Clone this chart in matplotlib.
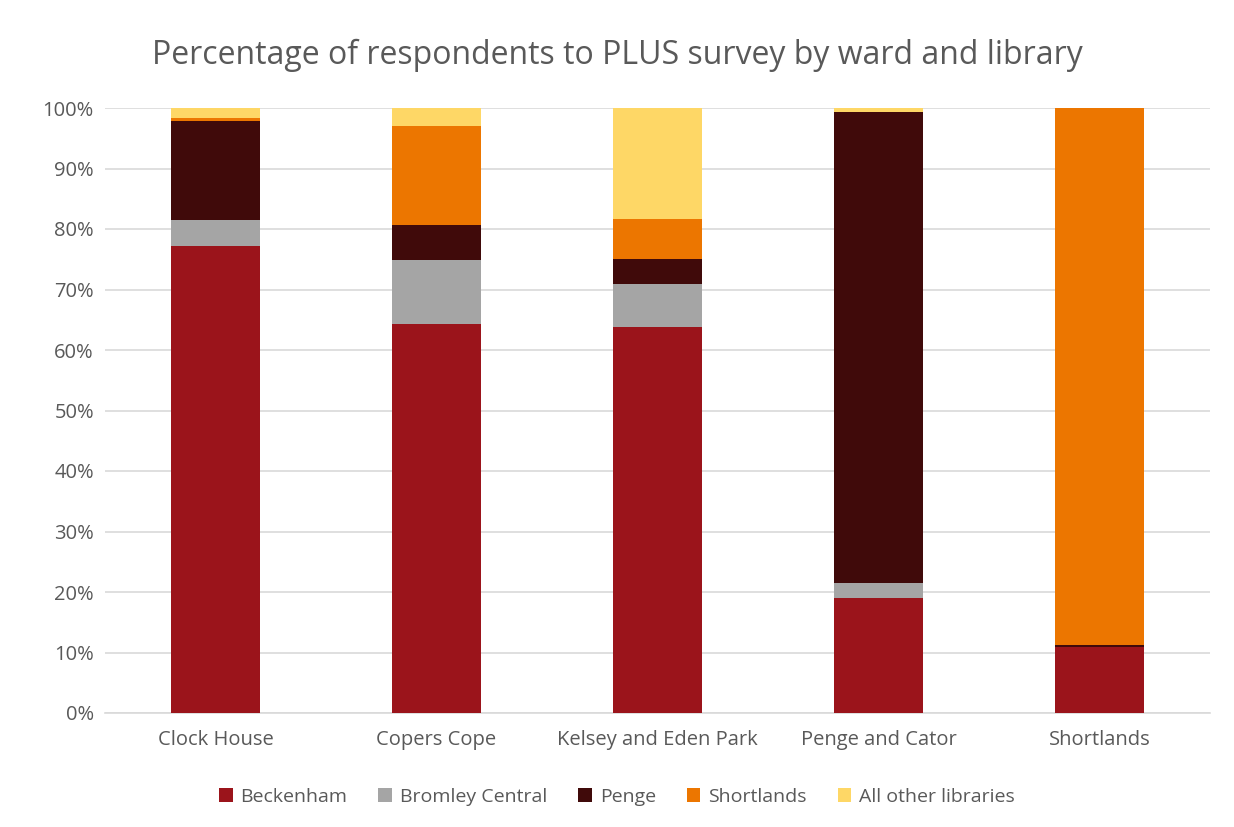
import matplotlib
matplotlib.use('Agg')
import matplotlib.pyplot as plt
import numpy as np
from matplotlib.ticker import PercentFormatter

plt.rcParams['font.family'] = ['Open Sans', 'DejaVu Sans']

wards = ['Clock House', 'Copers Cope', 'Kelsey and Eden Park', 'Penge and Cator', 'Shortlands']

# share of respondents (%) by library used
beckenham = [77.2, 64.3, 63.8, 19.0, 10.9]
bromley_central = [4.3, 10.6, 7.1, 2.5, 0.0]
penge = [16.4, 5.7, 4.1, 77.8, 0.3]
shortlands = [0.4, 16.4, 6.6, 0.0, 88.8]
other = [1.7, 3.0, 18.4, 0.7, 0.0]

series = [
    ('Beckenham', beckenham, '#9b141b'),
    ('Bromley Central', bromley_central, '#a5a5a5'),
    ('Penge', penge, '#400a0a'),
    ('Shortlands', shortlands, '#ec7600'),
    ('All other libraries', other, '#fed766'),
]

fig = plt.figure(figsize=(12.34, 8.27), dpi=100)
ax = fig.add_axes([105/1234, 1 - 713/827, 1105/1234, 605/827])

x = np.arange(len(wards))
bottom = np.zeros(len(wards))
for name, vals, col in series:
    ax.bar(x, vals, 0.4, bottom=bottom, color=col, label=name, zorder=3)
    bottom += np.array(vals)

ax.set_xlim(-0.5, 4.5)
ax.set_ylim(0, 100)
ax.set_yticks(np.arange(0, 101, 10))
ax.yaxis.set_major_formatter(PercentFormatter(decimals=0))
ax.set_xticks(x)
ax.set_xticklabels(wards)
ax.grid(axis='y', color='#d9d9d9', linewidth=1.2, zorder=0)
for s in ['top', 'right', 'left']:
    ax.spines[s].set_visible(False)
ax.spines['bottom'].set_color('#d9d9d9')
ax.spines['bottom'].set_linewidth(1.2)
ax.tick_params(axis='both', length=0, labelsize=14.5, labelcolor='#595959')
ax.tick_params(axis='x', pad=12)
ax.tick_params(axis='y', pad=8)

fig.text(0.5, 1 - 55/827, 'Percentage of respondents to PLUS survey by ward and library',
         ha='center', va='center', fontsize=23, color='#595959')

fig.legend(loc='center', bbox_to_anchor=(0.5, 1 - 797/827), ncol=5, frameon=False,
           fontsize=14, labelcolor='#595959', handlelength=0.7, handleheight=0.7,
           handletextpad=0.4, columnspacing=1.6)

fig.savefig('out.png', dpi=100)
